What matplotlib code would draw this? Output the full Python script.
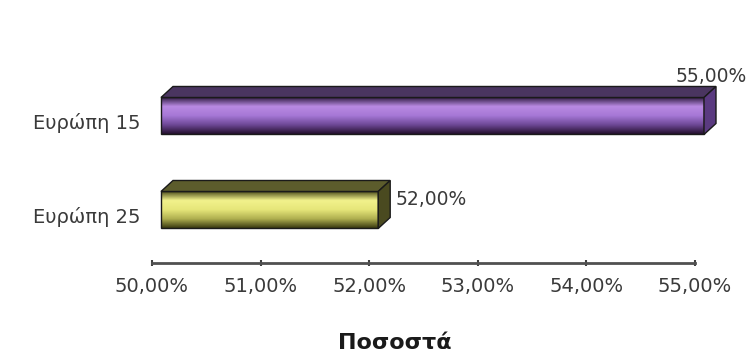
import matplotlib.pyplot as plt
import matplotlib.transforms as mtransforms
from matplotlib.colors import LinearSegmentedColormap
from matplotlib.patches import Polygon, Rectangle
import numpy as np

categories = ['Ευρώπη 25', 'Ευρώπη 15']
values = [52.0, 55.0]
xticks = [50, 51, 52, 53, 54, 55]
xtick_labels = ['50,00%', '51,00%', '52,00%', '53,00%', '54,00%', '55,00%']
value_labels = ['52,00%', '55,00%']

# front gradient (top -> bottom), top face, side face
front_colors = [['#4a4a18', '#f2f28c', '#e6e67a', '#b0b050', '#3a3a10'],
                ['#2e1a40', '#b98ae2', '#a678d6', '#6e4896', '#24102e']]
top_colors = ['#5c5c2c', '#4a3560']
side_colors = ['#4a4a20', '#5a3a80']

W, H = 748, 359
fig = plt.figure(figsize=(W / 100, H / 100), dpi=100)
ax = fig.add_axes([152 / W, (H - 263) / H, 543 / W, (263 - 50) / H])
ax.set_xlim(50, 55)
ax.set_ylim(-0.564, 1.702)

# pixel sizes -> data units
px_x = 5 / 543
px_y = 1 / 94
shift = 9 * px_x
dx, dy = 12 * px_x, 11 * px_y
bar_h = 37 * px_y

for i, (v, fc) in enumerate(zip(values, front_colors)):
    x0, x1 = 50 + shift, v + shift
    y0, y1 = i - bar_h / 2, i + bar_h / 2
    cmap = LinearSegmentedColormap.from_list('f%d' % i, fc[::-1])
    grad = np.linspace(0, 1, 200).reshape(-1, 1)
    img = ax.imshow(grad, extent=[x0, x1, y0, y1], origin='lower', aspect='auto',
                    cmap=cmap, zorder=3, interpolation='bilinear')
    img.set_clip_on(False)
    ax.add_patch(Rectangle((x0, y0), x1 - x0, y1 - y0, fill=False,
                           edgecolor='#1a1a1a', lw=1.0, zorder=4, clip_on=False))
    ax.add_patch(Polygon([(x0, y1), (x1, y1), (x1 + dx, y1 + dy), (x0 + dx, y1 + dy)],
                         facecolor=top_colors[i], edgecolor='#1a1a1a', lw=1.0,
                         zorder=4, clip_on=False))
    ax.add_patch(Polygon([(x1, y0), (x1 + dx, y0 + dy), (x1 + dx, y1 + dy), (x1, y1)],
                         facecolor=side_colors[i], edgecolor='#1a1a1a', lw=1.0,
                         zorder=4, clip_on=False))

# value labels
ax.text(values[0] + shift + dx + 5 * px_x, 0 + bar_h / 2 - 8 * px_y, value_labels[0],
        ha='left', va='center', fontsize=13.5, color='#3a3a3a', clip_on=False)
ax.text(values[1] + shift - 28 * px_x, 1 + bar_h / 2 + dy + 10 * px_y, value_labels[1],
        ha='left', va='center', fontsize=13.5, color='#3a3a3a', clip_on=False)

ax.set_xticks(xticks)
ax.set_xticklabels(xtick_labels)
ax.set_yticks([0, 1])
ax.set_yticklabels(categories)
ax.tick_params(axis='x', direction='inout', length=4, width=1.5, color='#404040',
               labelsize=14, labelcolor='#3a3a3a', pad=8)
ax.tick_params(axis='y', length=0, labelsize=14, labelcolor='#3a3a3a', pad=8.5)
off = mtransforms.ScaledTranslation(0, -5 / 100, fig.dpi_scale_trans)
for lab in ax.get_yticklabels():
    lab.set_transform(lab.get_transform() + off)

for s in ['top', 'right', 'left']:
    ax.spines[s].set_visible(False)
ax.spines['bottom'].set_color('#505050')
ax.spines['bottom'].set_linewidth(2)

fig.text(395 / W, 1 - 343 / H, 'Ποσοστά', ha='center', va='center',
         fontsize=16, fontweight='bold', color='#1a1a1a')

fig.savefig('out.png', dpi=100)
